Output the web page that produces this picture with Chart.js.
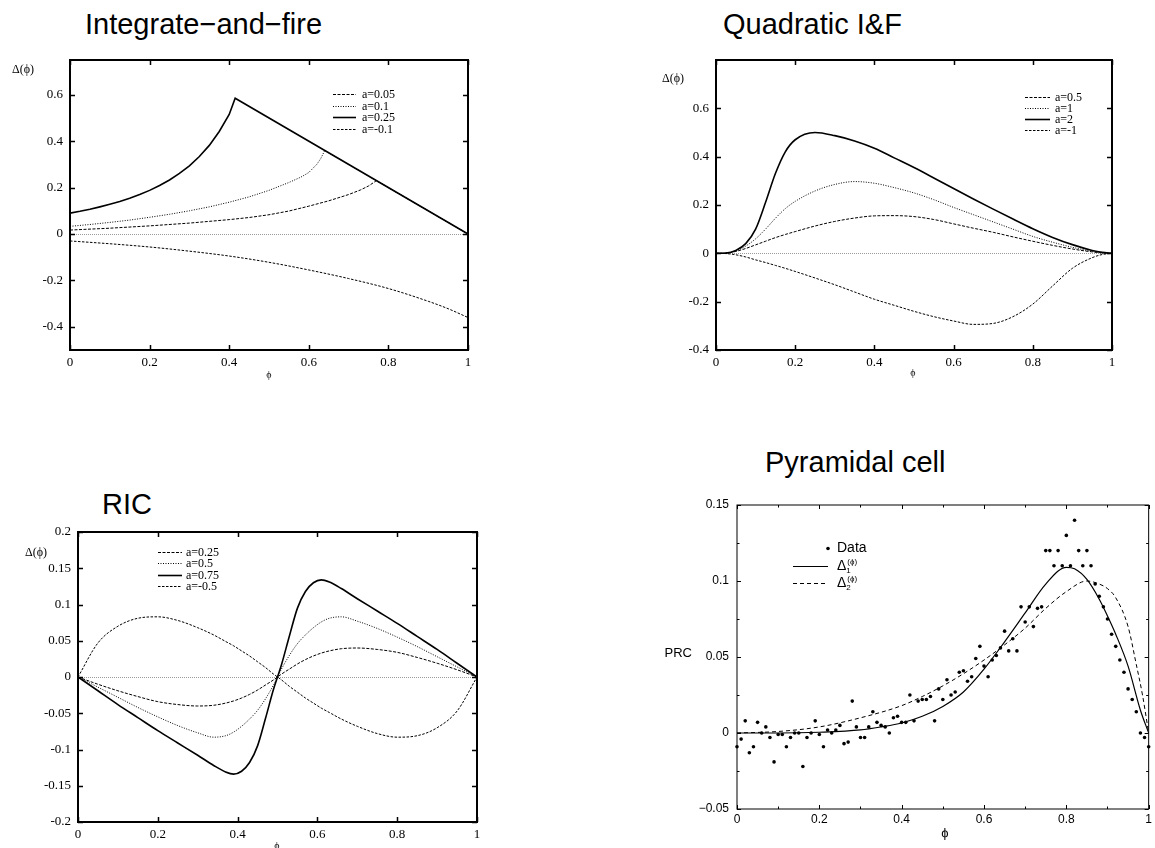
<!DOCTYPE html>
<html>
<head>
<meta charset="utf-8">
<script src="https://cdn.jsdelivr.net/npm/chart.js@4.4.0/dist/chart.umd.min.js"></script>
<style>
  body { margin: 0; background: #fff; width: 1155px; height: 848px; position: relative; overflow: hidden; }
  canvas { position: absolute; left: 0; top: 0; }
  .title { position: absolute; font-family: "Liberation Sans", Arial, sans-serif; font-size: 29px; line-height: 29px; color: #000; white-space: nowrap; }
</style>
</head>
<body>
<div class="title" style="left:85px;top:10px">Integrate−and−fire</div>
<div class="title" style="left:723px;top:10px">Quadratic I&amp;F</div>
<div class="title" style="left:102px;top:490px">RIC</div>
<div class="title" style="left:765px;top:448px">Pyramidal cell</div>

<canvas id="chartIF" width="1155" height="848"></canvas>
<canvas id="chartQIF" width="1155" height="848"></canvas>
<canvas id="chartRIC" width="1155" height="848"></canvas>
<canvas id="chartPyr" width="1155" height="848"></canvas>

<script>
// ---- Integrate-and-fire ----
var ifPhiA025 = [0, 0.025, 0.05, 0.075, 0.1, 0.125, 0.15, 0.175, 0.2, 0.225, 0.25, 0.275, 0.3, 0.325, 0.35, 0.375, 0.4, 0.415, 1];
var ifA025    = [0.09, 0.098, 0.107, 0.117, 0.128, 0.14, 0.154, 0.17, 0.188, 0.209, 0.233, 0.261, 0.294, 0.334, 0.382, 0.442, 0.515, 0.585, 0];
var ifPhiA01  = [0, 0.05, 0.1, 0.15, 0.2, 0.25, 0.3, 0.35, 0.4, 0.45, 0.5, 0.55, 0.58, 0.6, 0.62, 0.63, 0.64, 1];
var ifA01     = [0.033, 0.041, 0.05, 0.06, 0.072, 0.085, 0.1, 0.117, 0.137, 0.16, 0.188, 0.222, 0.245, 0.265, 0.3, 0.325, 0.36, 0];
var ifPhiA005 = [0, 0.1, 0.2, 0.3, 0.4, 0.45, 0.5, 0.55, 0.6, 0.65, 0.7, 0.73, 0.75, 0.77, 1];
var ifA005    = [0.017, 0.025, 0.035, 0.047, 0.062, 0.071, 0.083, 0.099, 0.12, 0.143, 0.17, 0.19, 0.207, 0.23, 0];
var ifPhiAm01 = [0, 0.1, 0.2, 0.3, 0.4, 0.5, 0.6, 0.7, 0.8, 0.9, 0.95, 1];
var ifAm01    = [-0.03, -0.042, -0.056, -0.074, -0.095, -0.122, -0.155, -0.192, -0.235, -0.29, -0.322, -0.36];
var ifXTicks = [0, 0.2, 0.4, 0.6, 0.8, 1];
var ifYTicks = [-0.4, -0.2, 0, 0.2, 0.4, 0.6];

// ---- Quadratic I&F ----
var qPhi   = [0, 0.025, 0.05, 0.075, 0.1, 0.125, 0.15, 0.175, 0.2, 0.25, 0.3, 0.35, 0.4, 0.45, 0.5, 0.55, 0.6, 0.65, 0.7, 0.75, 0.8, 0.85, 0.9, 0.95, 0.975, 1];
var qA05   = [0, 0.001, 0.008, 0.02, 0.035, 0.05, 0.065, 0.078, 0.09, 0.113, 0.132, 0.146, 0.155, 0.156, 0.152, 0.14, 0.122, 0.104, 0.087, 0.068, 0.05, 0.033, 0.018, 0.006, 0.002, 0];
var qA1    = [0, 0.001, 0.01, 0.03, 0.06, 0.1, 0.145, 0.185, 0.215, 0.258, 0.285, 0.297, 0.29, 0.272, 0.25, 0.222, 0.19, 0.16, 0.13, 0.1, 0.07, 0.046, 0.025, 0.008, 0.002, 0];
var qA2    = [0, 0.001, 0.012, 0.04, 0.1, 0.21, 0.33, 0.42, 0.47, 0.5, 0.487, 0.465, 0.435, 0.395, 0.355, 0.312, 0.268, 0.225, 0.183, 0.142, 0.102, 0.066, 0.036, 0.012, 0.004, 0];
var qAm1   = [0, -0.001, -0.006, -0.015, -0.027, -0.038, -0.05, -0.062, -0.075, -0.102, -0.13, -0.16, -0.19, -0.215, -0.24, -0.262, -0.28, -0.294, -0.29, -0.262, -0.21, -0.135, -0.062, -0.018, -0.005, 0];
var qXTicks = [0, 0.2, 0.4, 0.6, 0.8, 1];
var qYTicks = [-0.4, -0.2, 0, 0.2, 0.4, 0.6];

// ---- RIC ----
var ricPhi  = [0, 0.05, 0.1, 0.15, 0.2, 0.25, 0.3, 0.34, 0.37, 0.39, 0.41, 0.43, 0.45, 0.47, 0.49, 0.5,
               0.51, 0.53, 0.55, 0.57, 0.59, 0.61, 0.63, 0.66, 0.7, 0.75, 0.8, 0.85, 0.9, 0.95, 1];
var ricA025 = [0, -0.01, -0.019, -0.027, -0.034, -0.038, -0.04, -0.039, -0.036, -0.033, -0.029, -0.024, -0.018, -0.011, -0.004, 0,
               0.004, 0.011, 0.018, 0.024, 0.029, 0.033, 0.036, 0.039, 0.04, 0.038, 0.034, 0.027, 0.019, 0.01, 0];
var ricA05  = [0, -0.014, -0.028, -0.042, -0.055, -0.067, -0.077, -0.083, -0.081, -0.076, -0.068, -0.058, -0.046, -0.03, -0.011, 0,
               0.011, 0.03, 0.046, 0.058, 0.068, 0.076, 0.081, 0.083, 0.077, 0.067, 0.055, 0.042, 0.028, 0.014, 0];
var ricA075 = [0, -0.019, -0.038, -0.056, -0.074, -0.091, -0.108, -0.122, -0.131, -0.134, -0.13, -0.118, -0.095, -0.057, -0.017, 0,
               0.017, 0.057, 0.095, 0.118, 0.13, 0.134, 0.131, 0.122, 0.108, 0.091, 0.074, 0.056, 0.038, 0.019, 0];
var ricAm05 = [0, 0.047, 0.07, 0.081, 0.083, 0.078, 0.068, 0.058, 0.049, 0.043, 0.036, 0.029, 0.021, 0.013, 0.004, 0,
               -0.004, -0.013, -0.021, -0.029, -0.036, -0.043, -0.049, -0.058, -0.068, -0.078, -0.083, -0.081, -0.07, -0.047, 0];
var ricXTicks = [0, 0.2, 0.4, 0.6, 0.8, 1];
var ricYTicks = [-0.2, -0.15, -0.1, -0.05, 0, 0.05, 0.1, 0.15, 0.2];

// ---- Pyramidal cell ----
var pyrPhi = [0, 0.01, 0.02, 0.03, 0.04, 0.05, 0.06, 0.07, 0.08, 0.09,
              0.1, 0.11, 0.12, 0.13, 0.14, 0.15, 0.16, 0.17, 0.18, 0.19,
              0.2, 0.21, 0.22, 0.23, 0.24, 0.25, 0.26, 0.27, 0.28, 0.29,
              0.3, 0.31, 0.32, 0.33, 0.34, 0.35, 0.36, 0.37, 0.38, 0.39,
              0.4, 0.41, 0.42, 0.43, 0.44, 0.45, 0.46, 0.47, 0.48, 0.49,
              0.5, 0.51, 0.52, 0.53, 0.54, 0.55, 0.56, 0.57, 0.58, 0.59,
              0.6, 0.61, 0.62, 0.63, 0.64, 0.65, 0.66, 0.67, 0.68, 0.69,
              0.7, 0.71, 0.72, 0.73, 0.74, 0.75, 0.76, 0.77, 0.78, 0.79,
              0.8, 0.81, 0.82, 0.83, 0.84, 0.85, 0.86, 0.87, 0.88, 0.89,
              0.9, 0.91, 0.92, 0.93, 0.94, 0.95, 0.96, 0.97, 0.98, 0.99, 1];
var pyrPRC = [-0.009, -0.004, 0.008, -0.013, -0.009, 0.007, 0.000, 0.004, -0.003, -0.019,
              -0.001, -0.001, -0.009, -0.003, 0.000, 0.000, -0.022, -0.003, 0.000, 0.008,
              -0.001, -0.009, 0.002, 0.000, 0.002, 0.005, -0.007, -0.006, 0.021, 0.004,
              -0.003, -0.003, 0.004, 0.014, 0.007, 0.005, 0.004, 0.000, 0.010, 0.011,
              0.007, 0.007, 0.025, 0.008, 0.021, 0.022, 0.022, 0.024, 0.008, 0.029,
              0.022, 0.035, 0.025, 0.027, 0.040, 0.041, 0.034, 0.037, 0.049, 0.057,
              0.044, 0.037, 0.048, 0.051, 0.056, 0.067, 0.054, 0.062, 0.054, 0.083,
              0.073, 0.083, 0.070, 0.082, 0.083, 0.120, 0.120, 0.110, 0.120, 0.110,
              0.130, 0.110, 0.140, 0.120, 0.110, 0.120, 0.110, 0.098, 0.090, 0.083,
              0.075, 0.065, 0.057, 0.048, 0.040, 0.029, 0.022, 0.014, 0.000, -0.003, -0.009];
var fitPhi1 = [0, 0.1, 0.2, 0.3, 0.35, 0.4, 0.45, 0.5, 0.55, 0.6, 0.65, 0.7, 0.75, 0.8, 0.82, 0.85, 0.88, 0.9, 0.92, 0.95, 0.98, 1];
var fitD1   = [0, 0, 0.0005, 0.002, 0.004, 0.0066, 0.011, 0.0175, 0.027, 0.042, 0.06, 0.079, 0.098, 0.109, 0.108, 0.101, 0.088, 0.077, 0.065, 0.044, 0.015, 0];
var fitPhi2 = [0, 0.1, 0.2, 0.3, 0.4, 0.45, 0.5, 0.55, 0.6, 0.65, 0.7, 0.75, 0.8, 0.85, 0.88, 0.9, 0.92, 0.95, 0.97, 0.985, 1];
var fitD2   = [0, 0.001, 0.004, 0.01, 0.018, 0.024, 0.031, 0.039, 0.048, 0.058, 0.069, 0.082, 0.093, 0.1, 0.098, 0.095, 0.089, 0.07, 0.045, 0.025, 0];
var pyrXTicks = [0, 0.2, 0.4, 0.6, 0.8, 1];
var pyrYTicks = [-0.05, 0, 0.05, 0.1, 0.15];

var W = 1155, H = 848;
var AXW = 60, AXH = 30;
var serif = '"Liberation Serif", "Times New Roman", "DejaVu Serif", serif';
var sans = '"Liberation Sans", Arial, "DejaVu Sans", sans-serif';

function pts(xs, ys) {
    return xs.map(function(x, i) { return {x: x, y: ys[i]}; });
}

function fmt(v) {
    return String(Math.round(v * 1000) / 1000);
}

function fmtMinus(v) {
    return fmt(v).replace('-', '\u2212');
}

var curve = function(label, row, xs, ys, dash, width, smooth) {
    return {
        label: label,
        keyRow: row,
        data: pts(xs, ys),
        showLine: true,
        borderColor: '#000',
        borderWidth: width,
        borderDash: dash,
        pointRadius: 0,
        cubicInterpolationMode: smooth ? 'monotone' : 'default',
        tension: 0
    };
};

// zero line, box frame and inward ticks on all four sides
var framePlugin = {
    id: 'frame',
    beforeDatasetsDraw: function(chart, args, o) {
        if (!o.zero) return;
        var a = chart.chartArea, ctx = chart.ctx;
        var y0 = Math.round(chart.scales.y.getPixelForValue(0)) + 0.5;
        ctx.save();
        ctx.strokeStyle = '#9a9a9a';
        ctx.lineWidth = 1;
        ctx.setLineDash([1, 1]);
        ctx.beginPath();
        ctx.moveTo(a.left, y0);
        ctx.lineTo(a.right, y0);
        ctx.stroke();
        ctx.restore();
    },
    afterDatasetsDraw: function(chart, args, o) {
        var a = chart.chartArea, ctx = chart.ctx;
        var xs = chart.scales.x, ys = chart.scales.y;
        ctx.save();
        ctx.strokeStyle = '#000';
        ctx.lineWidth = o.tickWidth;
        ctx.beginPath();
        var xt = function(v, len) {
            var p = Math.round(xs.getPixelForValue(v)) + 0.5;
            ctx.moveTo(p, a.bottom); ctx.lineTo(p, a.bottom - len);
            ctx.moveTo(p, a.top); ctx.lineTo(p, a.top + len);
        };
        var yt = function(v, len) {
            var p = Math.round(ys.getPixelForValue(v)) + 0.5;
            ctx.moveTo(a.left, p); ctx.lineTo(a.left + len, p);
            ctx.moveTo(a.right, p); ctx.lineTo(a.right - len, p);
        };
        xs.ticks.forEach(function(t) { xt(t.value, o.len); });
        ys.ticks.forEach(function(t) { yt(t.value, o.len); });
        (o.xMinor || []).forEach(function(v) { xt(v, o.minorLen); });
        (o.yMinor || []).forEach(function(v) { yt(v, o.minorLen); });
        ctx.stroke();
        ctx.lineWidth = o.width;
        ctx.strokeRect(a.left, a.top, a.right - a.left, a.bottom - a.top);
        ctx.restore();
    }
};

var drawLabel = function(ctx, text, x, y, o) {
    var m = text.match(/^(.*)_(.*)\^(.*)$/);
    ctx.font = o.size + 'px ' + o.family;
    if (!m) {
        ctx.fillText(text, x, y);
        return;
    }
    ctx.fillText(m[1], x, y);
    var w = ctx.measureText(m[1]).width;
    ctx.font = Math.round(o.size * 0.6) + 'px ' + o.family;
    ctx.fillText(m[2], x + w, y + 4);
    ctx.fillText(m[3], x + w + 1, y - 5);
};

// key drawn inside the plot box, gnuplot style, plus the loose axis captions
var keyPlugin = {
    id: 'key',
    afterDraw: function(chart, args, o) {
        var a = chart.chartArea, ctx = chart.ctx;
        ctx.save();
        ctx.textBaseline = 'middle';
        ctx.textAlign = 'left';
        ctx.fillStyle = '#000';
        ctx.strokeStyle = '#000';
        chart.data.datasets.forEach(function(d) {
            if (d.keyRow === undefined) return;
            var y = Math.round(a.top + o.top + d.keyRow * o.step) + 0.5;
            var x0 = a.left + o.left;
            if (d.showLine) {
                ctx.lineWidth = d.borderWidth;
                ctx.setLineDash(d.borderDash || []);
                ctx.beginPath();
                ctx.moveTo(x0, y);
                ctx.lineTo(x0 + o.len, y);
                ctx.stroke();
                ctx.setLineDash([]);
            } else {
                ctx.beginPath();
                ctx.arc(x0 + o.len, y, d.pointRadius, 0, Math.PI * 2);
                ctx.fill();
            }
            drawLabel(ctx, d.label, x0 + o.len + o.gap, y, o);
        });
        (o.notes || []).forEach(function(n) {
            ctx.font = n.size + 'px ' + n.family;
            ctx.textAlign = n.align;
            ctx.fillText(n.text, n.x, n.y);
        });
        ctx.restore();
    }
};

var panel = function(id, box, cfg) {
    var tickFont = {family: cfg.family, size: cfg.tickSize};
    return new Chart(document.getElementById(id), {
        type: 'scatter',
        data: {datasets: cfg.datasets},
        options: {
            responsive: false,
            animation: false,
            events: [],
            layout: {
                padding: {left: box.l - AXW, top: box.t, right: W - box.r, bottom: H - box.b - AXH}
            },
            scales: {
                x: {
                    type: 'linear', min: 0, max: 1,
                    grid: {display: false, drawTicks: false},
                    border: {display: false},
                    afterBuildTicks: function(s) { s.ticks = cfg.xTicks.map(function(v) { return {value: v}; }); },
                    afterFit: function(s) { s.height = AXH; },
                    ticks: {font: tickFont, color: '#000', padding: cfg.xPad, maxRotation: 0, autoSkip: false, callback: cfg.fmt}
                },
                y: {
                    type: 'linear', min: cfg.yMin, max: cfg.yMax,
                    grid: {display: false, drawTicks: false},
                    border: {display: false},
                    afterBuildTicks: function(s) { s.ticks = cfg.yTicks.map(function(v) { return {value: v}; }); },
                    afterFit: function(s) { s.width = AXW; },
                    ticks: {font: tickFont, color: '#000', padding: cfg.yPad, autoSkip: false, callback: cfg.fmt}
                }
            },
            plugins: {
                legend: {display: false},
                tooltip: {enabled: false},
                frame: cfg.frame,
                key: cfg.key
            }
        },
        plugins: [framePlugin, keyPlugin]
    });
};

panel('chartIF', {l: 70, t: 60, r: 468, b: 350}, {
    family: serif, tickSize: 13, xPad: 5, yPad: 7, fmt: fmt,
    yMin: -0.5, yMax: 0.75, xTicks: ifXTicks, yTicks: ifYTicks,
    frame: {zero: true, width: 2, tickWidth: 1.5, len: 5},
    key: {left: 263, top: 34, step: 11.5, len: 23, gap: 6, size: 12, family: serif,
          notes: [{text: 'Δ(ϕ)', x: 12, y: 70, size: 12, family: serif, align: 'left'},
                  {text: 'ϕ', x: 269, y: 375, size: 10, family: serif, align: 'center'}]},
    datasets: [
        curve('a=0.05', 0, ifPhiA005, ifA005, [3, 1.5], 1, false),
        curve('a=0.1', 1, ifPhiA01, ifA01, [1, 1.5], 1, false),
        curve('a=0.25', 2, ifPhiA025, ifA025, [], 1.6, false),
        curve('a=-0.1', 3, ifPhiAm01, ifAm01, [2.5, 1.5], 1, true)
    ]
});

panel('chartQIF', {l: 716, t: 60, r: 1112, b: 350}, {
    family: serif, tickSize: 13, xPad: 5, yPad: 7, fmt: fmt,
    yMin: -0.4, yMax: 0.8, xTicks: qXTicks, yTicks: qYTicks,
    frame: {zero: true, width: 2, tickWidth: 1.5, len: 5},
    key: {left: 309, top: 37, step: 11, len: 25, gap: 5, size: 12, family: serif,
          notes: [{text: 'Δ(ϕ)', x: 662, y: 79, size: 12, family: serif, align: 'left'},
                  {text: 'ϕ', x: 913, y: 373, size: 10, family: serif, align: 'center'}]},
    datasets: [
        curve('a=0.5', 0, qPhi, qA05, [3, 1.5], 1, true),
        curve('a=1', 1, qPhi, qA1, [1, 1.5], 1, true),
        curve('a=2', 2, qPhi, qA2, [], 1.6, true),
        curve('a=-1', 3, qPhi, qAm1, [2.5, 1.5], 1, true)
    ]
});

panel('chartRIC', {l: 78, t: 532, r: 477, b: 822}, {
    family: serif, tickSize: 13, xPad: 5, yPad: 7, fmt: fmt,
    yMin: -0.2, yMax: 0.2, xTicks: ricXTicks, yTicks: ricYTicks,
    frame: {zero: true, width: 2, tickWidth: 1.5, len: 5},
    key: {left: 80, top: 20, step: 11.3, len: 24, gap: 4, size: 12, family: serif,
          notes: [{text: 'Δ(ϕ)', x: 25, y: 553, size: 12, family: serif, align: 'left'},
                  {text: 'ϕ', x: 277, y: 846, size: 10, family: serif, align: 'center'}]},
    datasets: [
        curve('a=0.25', 0, ricPhi, ricA025, [3, 1.5], 1, true),
        curve('a=0.5', 1, ricPhi, ricA05, [1, 1.5], 1, true),
        curve('a=0.75', 2, ricPhi, ricA075, [], 1.6, true),
        curve('a=-0.5', 3, ricPhi, ricAm05, [2.5, 1.5], 1, true)
    ]
});

panel('chartPyr', {l: 737, t: 505, r: 1149, b: 809}, {
    family: sans, tickSize: 12, xPad: 3, yPad: 8, fmt: fmtMinus,
    yMin: -0.05, yMax: 0.15, xTicks: pyrXTicks, yTicks: pyrYTicks,
    frame: {zero: false, width: 1, tickWidth: 1, len: 4, minorLen: 2.5,
            xMinor: [0.1, 0.3, 0.5, 0.7, 0.9], yMinor: [-0.025, 0.025, 0.075, 0.125]},
    key: {left: 56, top: 43, step: 17.5, len: 35, gap: 9, size: 14, family: sans,
          notes: [{text: 'PRC', x: 692, y: 653, size: 13, family: sans, align: 'right'},
                  {text: 'ϕ', x: 945, y: 833, size: 13, family: sans, align: 'center'}]},
    datasets: [
        {label: 'Data', keyRow: 0, data: pts(pyrPhi, pyrPRC), showLine: false,
         pointRadius: 1.8, pointBackgroundColor: '#000', pointBorderWidth: 0, clip: 4},
        curve('Δ_1^(ϕ)', 1, fitPhi1, fitD1, [], 1.2, true),
        curve('Δ_2^(ϕ)', 2, fitPhi2, fitD2, [4, 3], 1, true)
    ]
});
</script>
</body>
</html>
